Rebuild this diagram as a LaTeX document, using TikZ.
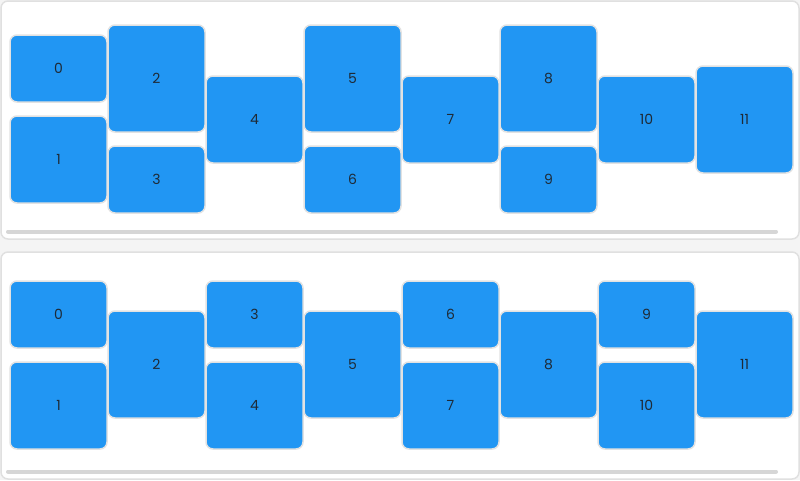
\documentclass[tikz,border=0pt]{standalone}
\usepackage{fontspec}
\setmainfont{Poppins}
\usepackage{xcolor}
\definecolor{CellBlue}{HTML}{2196F3}
\definecolor{CellEdge}{HTML}{E2E2E2}
\definecolor{PanelEdge}{HTML}{E0E0E0}
\definecolor{PageGray}{HTML}{F4F4F4}
\definecolor{BarGray}{HTML}{D6D6D6}
\definecolor{LabelInk}{HTML}{1E2A36}

\begin{document}
\begin{tikzpicture}[x=1pt, y=-1pt,
      cell/.style={draw=CellEdge, line width=1.5pt, fill=CellBlue, rounded corners=7pt,
        minimum width=97pt, inner sep=0pt, text=LabelInk, font=\fontsize{14}{16}\selectfont},
      cellS/.style={cell, minimum height=67pt},
      cellM/.style={cell, minimum height=87pt},
      cellL/.style={cell, minimum height=107pt},
      panel/.style={draw=PanelEdge, line width=1.5pt, fill=white, rounded corners=7pt},
      bar/.style={draw=BarGray, line width=4pt, line cap=round}]
    \useasboundingbox (0,0) rectangle (800,480);
    \fill[PageGray] (0,0) rectangle (800,480);
    % two panels with their scroll bars
    \draw[panel] (1,1) rectangle (799,239);
    \draw[panel] (1,252) rectangle (799,479);
    \coordinate (barA1) at (8,231.5);
    \coordinate (barA2) at (776,231.5);
    \coordinate (barB1) at (8,471.5);
    \coordinate (barB2) at (776,471.5);
    \draw[bar] (barA1) -- (barA2);
    \draw[bar] (barB1) -- (barB2);
    % upper panel
    \node (a0) [cellS] at (58.5,68.5) {0};
    \node (a1) [cellM] at (58.5,159.5) {1};
    \node (a2) [cellL] at (156.5,78.5) {2};
    \node (a3) [cellS] at (156.5,179.5) {3};
    \node (a4) [cellM] at (254.5,119.5) {4};
    \node (a5) [cellL] at (352.5,78.5) {5};
    \node (a6) [cellS] at (352.5,179.5) {6};
    \node (a7) [cellM] at (450.5,119.5) {7};
    \node (a8) [cellL] at (548.5,78.5) {8};
    \node (a9) [cellS] at (548.5,179.5) {9};
    \node (a10) [cellM] at (646.5,119.5) {10};
    \node (a11) [cellL] at (744.5,119.5) {11};
    % lower panel
    \node (b0) [cellS] at (58.5,314.5) {0};
    \node (b1) [cellM] at (58.5,405.5) {1};
    \node (b2) [cellL] at (156.5,364.5) {2};
    \node (b3) [cellS] at (254.5,314.5) {3};
    \node (b4) [cellM] at (254.5,405.5) {4};
    \node (b5) [cellL] at (352.5,364.5) {5};
    \node (b6) [cellS] at (450.5,314.5) {6};
    \node (b7) [cellM] at (450.5,405.5) {7};
    \node (b8) [cellL] at (548.5,364.5) {8};
    \node (b9) [cellS] at (646.5,314.5) {9};
    \node (b10) [cellM] at (646.5,405.5) {10};
    \node (b11) [cellL] at (744.5,364.5) {11};
\end{tikzpicture}
\end{document}
